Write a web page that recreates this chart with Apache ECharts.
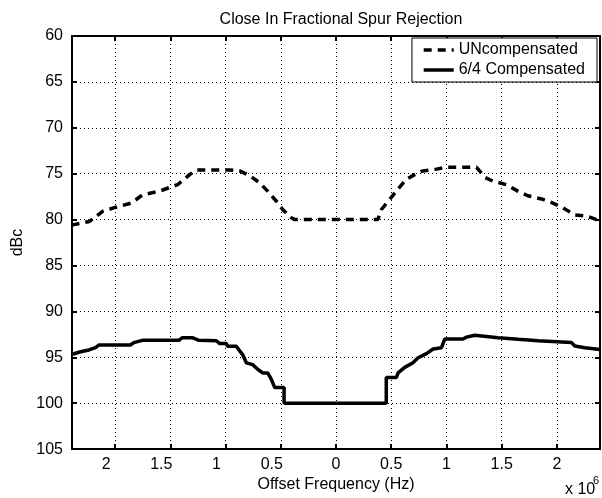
<!DOCTYPE html>
<html>
<head>
<meta charset="utf-8">
<script src="https://cdn.jsdelivr.net/npm/echarts@6/dist/echarts.min.js"></script>
<style>
  html, body { margin: 0; padding: 0; background: #fff; }
  #chart { width: 602px; height: 498px; }
</style>
</head>
<body>
<div id="chart"></div>
<script>
// offset frequency in MHz (axis shows x 10^6 Hz), level in dBc
const uncompFreq = [-2.394, -2.231, -2.113, -2.005, -1.853, -1.751, -1.597, -1.506, -1.434, -1.325, -1.264, -0.963, -0.872, -0.782, -0.691, -0.619, -0.540, -0.483, -0.404, -0.374, 0.378, 0.411, 0.486, 0.559, 0.638, 0.713, 0.785, 0.909, 1.000, 1.272, 1.347, 1.419, 1.543, 1.646, 1.736, 1.860, 1.963, 2.053, 2.162, 2.268, 2.359, 2.39]
const uncompDbc = [80.6, 80.2, 79.1, 78.7, 78.2, 77.3, 76.9, 76.5, 76.2, 75.1, 74.6, 74.6, 74.7, 75.2, 76.0, 76.9, 78.0, 78.9, 79.8, 80.0, 80.0, 78.9, 77.8, 76.7, 75.6, 75.1, 74.7, 74.5, 74.3, 74.3, 75.4, 75.8, 76.2, 76.9, 77.4, 77.75, 78.2, 78.7, 79.5, 79.6, 80.0, 80.1]

const compFreq = [-2.394, -2.312, -2.237, -2.177, -2.147, -1.860, -1.830, -1.754, -1.422, -1.391, -1.301, -1.241, -1.083, -1.053, -0.993, -0.981, -0.902, -0.872, -0.845, -0.812, -0.755, -0.709, -0.664, -0.619, -0.585, -0.555, -0.470, -0.470, 0.455, 0.455, 0.547, 0.562, 0.622, 0.697, 0.743, 0.819, 0.879, 0.955, 0.985, 1.150, 1.181, 1.256, 1.467, 1.649, 1.830, 2.132, 2.162, 2.253, 2.39]
const compDbc = [94.7, 94.4, 94.2, 93.95, 93.66, 93.66, 93.4, 93.15, 93.15, 92.86, 92.86, 93.15, 93.2, 93.5, 93.5, 93.8, 93.8, 94.3, 94.7, 95.6, 95.8, 96.3, 96.7, 96.7, 97.4, 98.3, 98.3, 100, 100, 97.2, 97.2, 96.7, 96.1, 95.6, 95.05, 94.6, 94.1, 93.95, 93.0, 93.0, 92.8, 92.6, 92.86, 93.04, 93.2, 93.4, 93.77, 93.95, 94.15]

const seriesNames = ['UNcompensated', '6/4 Compensated']
const xRange = [-2.39, 2.39]
const yRange = [60, 105]

const zip = (xs, ys) => xs.map((x, i) => [x, ys[i]])

const font = "'Liberation Sans', Arial, sans-serif"
const black = '#000'

var myChart = echarts.init(document.getElementById('chart'))

// MATLAB-style box: inner ticks on every side, dotted grid
const frameAxis = (extra) => Object.assign({
  axisLine: { show: true, onZero: false, lineStyle: { color: black, width: 2 } },
  axisTick: { show: true, inside: true, length: 5, lineStyle: { color: black, width: 2 } },
}, extra)

myChart.setOption({
  animation: false,
  backgroundColor: '#fff',
  textStyle: { fontFamily: font, color: black },
  title: {
    text: 'Close In Fractional Spur Rejection',
    left: 336,
    textAlign: 'center',
    top: 7,
    textStyle: { fontFamily: font, fontSize: 16, fontWeight: 'normal', color: black }
  },
  grid: { left: 72, right: 2, top: 36, bottom: 48 },
  legend: {
    orient: 'vertical',
    right: 5,
    top: 38,
    padding: [4, 12, 4, 10],
    itemGap: 4,
    itemWidth: 30,
    itemHeight: 15,
    backgroundColor: '#fff',
    borderColor: black,
    borderWidth: 1,
    borderRadius: 0,
    itemStyle: { opacity: 0 },
    lineStyle: { width: 3.5 },
    textStyle: { fontFamily: font, fontSize: 16, color: black },
    data: seriesNames
  },
  xAxis: [
    frameAxis({
      type: 'value',
      min: xRange[0],
      max: xRange[1],
      splitNumber: 10,
      name: 'Offset Frequency (Hz)',
      nameLocation: 'middle',
      nameGap: 22,
      nameTextStyle: { fontFamily: font, fontSize: 16, color: black },
      splitLine: { show: true, lineStyle: { color: black, width: 1, type: [1, 3] } },
      axisLabel: {
        margin: 7,
        fontFamily: font,
        fontSize: 16,
        color: black,
        showMinLabel: false,
        showMaxLabel: false,
        formatter(val) {
          const r = Math.round(val * 2) / 2
          if (Math.abs(r - val) > 1e-6) return ''
          const t = String(Math.abs(r))
          return r < 0 ? '{n|' + t + '}' : t
        },
        rich: { n: { fontFamily: font, fontSize: 16, color: black, padding: [0, 18, 0, 0] } }
      }
    }),
    frameAxis({
      type: 'value',
      position: 'top',
      min: xRange[0],
      max: xRange[1],
      splitNumber: 10,
      splitLine: { show: false },
      axisLabel: { show: false }
    })
  ],
  yAxis: [
    frameAxis({
      type: 'value',
      inverse: true,
      min: yRange[0],
      max: yRange[1],
      interval: 5,
      name: 'dBc',
      nameLocation: 'middle',
      nameGap: 46,
      nameTextStyle: { fontFamily: font, fontSize: 16, color: black },
      splitLine: { show: true, lineStyle: { color: black, width: 1, type: [1, 3] } },
      axisLabel: { margin: 9, fontFamily: font, fontSize: 16, color: black }
    }),
    frameAxis({
      type: 'value',
      position: 'right',
      inverse: true,
      min: yRange[0],
      max: yRange[1],
      interval: 5,
      splitLine: { show: false },
      axisLabel: { show: false }
    })
  ],
  graphic: [
    {
      type: 'text',
      left: 565,
      top: 482,
      style: { text: 'x 10', font: '16px ' + font, fill: black }
    },
    {
      type: 'text',
      left: 593,
      top: 475,
      style: { text: '6', font: '11px ' + font, fill: black }
    }
  ],
  series: [
    {
      name: seriesNames[0],
      type: 'line',
      data: zip(uncompFreq, uncompDbc),
      symbol: 'none',
      clip: true,
      lineStyle: { color: black, width: 3.5, type: [8, 6] },
      itemStyle: { color: black }
    },
    {
      name: seriesNames[1],
      type: 'line',
      data: zip(compFreq, compDbc),
      symbol: 'none',
      clip: true,
      lineStyle: { color: black, width: 3.5 },
      itemStyle: { color: black }
    }
  ]
})
</script>
</body>
</html>
